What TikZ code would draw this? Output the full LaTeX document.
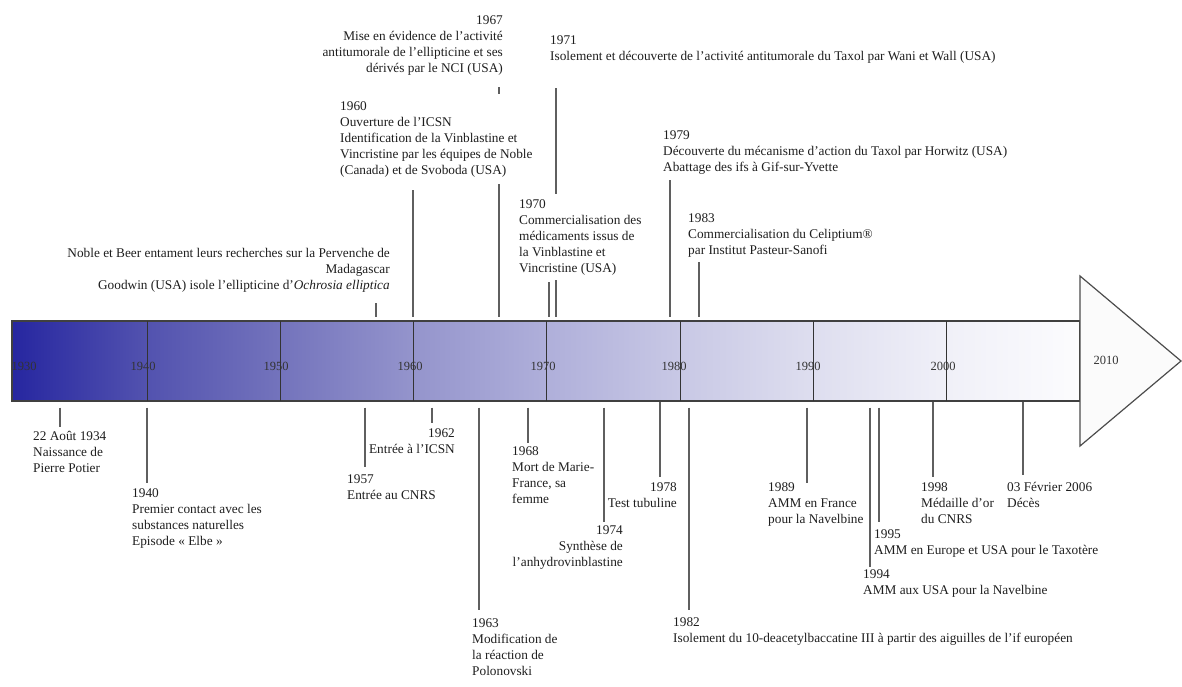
\documentclass[tikz,border=0pt]{standalone}
\usepackage{fontspec}
\setmainfont{Liberation Serif}
\definecolor{c0}{RGB}{38,38,160}
\definecolor{c1}{RGB}{82,82,175}
\definecolor{c2}{RGB}{115,115,188}
\definecolor{c3}{RGB}{148,148,204}
\definecolor{c4}{RGB}{175,175,218}
\definecolor{c5}{RGB}{200,200,229}
\definecolor{c6}{RGB}{222,222,239}
\definecolor{c7}{RGB}{240,240,248}
\definecolor{c8}{RGB}{252,252,254}
\definecolor{tickgray}{RGB}{95,95,95}
\definecolor{txt}{RGB}{30,30,30}
\pgfdeclarehorizontalshading{barshade}{100bp}{color(0bp)=(c0); color(25bp)=(c0); color(31.25bp)=(c1); color(37.5bp)=(c2); color(43.75bp)=(c3); color(50bp)=(c4); color(56.25bp)=(c5); color(62.5bp)=(c6); color(68.75bp)=(c7); color(75bp)=(c8); color(100bp)=(c8)}
\begin{document}
\begin{tikzpicture}[x=1pt,y=-1pt,
  lbl/.style={inner sep=0pt, font=\fontsize{13.3}{16}\selectfont, text=txt},
  lblL/.style={lbl, align=left, anchor=north west},
  lblR/.style={lbl, align=right, anchor=north east},
  cover/.style={fill=white, inner sep=#1, xshift=-#1, yshift=#1},
  yr/.style={inner sep=0pt, font=\fontsize{12.5}{12.5}\selectfont, text=black!80},
  tick/.style={draw=tickgray, line width=1.5pt},
  topgap/.style={shorten >=3pt},
  botgap/.style={shorten <=6pt},
  divider/.style={draw=black!80, line width=1pt}]
\useasboundingbox (0,0) rectangle (1182,686);

% timeline bar
\node[draw=black!75, line width=1.3pt, shading=barshade, minimum width=1068pt, minimum height=80pt, inner sep=0pt] (bar) at (546,361) {};
\foreach \x in {147.2,280.4,413.6,546.8,680,813.2,946.4}
  \draw[divider] (\x,321) -- (\x,401);
\draw[draw=black!70, fill=white!97!gray, line width=1.2pt, line join=miter] (1080,276) -- (1181,361) -- (1080,446) -- cycle;

% decade labels
\node[yr] (y30) at (24,366) {1930};
\node[yr] (y40) at (143,366) {1940};
\node[yr] (y50) at (276,366) {1950};
\node[yr] (y60) at (410,366) {1960};
\node[yr] (y70) at (543,366) {1970};
\node[yr] (y80) at (674,366) {1980};
\node[yr] (y90) at (808,366) {1990};
\node[yr] (y00) at (943,366) {2000};
\node[yr] (y10) at (1106,360) {2010};

% tick anchors (free ends)
\coordinate (a58) at (376,303);
\coordinate (a60) at (413,190);
\coordinate (a67) at (499,87);
\coordinate (a70) at (549,282);
\coordinate (a71) at (556,88);
\coordinate (a79) at (670,180);
\coordinate (a83) at (699,262);
\coordinate (b34) at (60,427);
\coordinate (b40) at (147,483);
\coordinate (b57) at (365,467);
\coordinate (b62) at (432,423);
\coordinate (b63) at (479,610);
\coordinate (b68) at (528,443);
\coordinate (b74) at (604,522);
\coordinate (b78) at (660,477);
\coordinate (b82) at (689,610);
\coordinate (b89) at (807,483);
\coordinate (b94) at (870,567);
\coordinate (b95) at (879,522);
\coordinate (b98) at (933,477);
\coordinate (b06) at (1023,475);

% ticks above
\foreach \c in {a58,a60,a67,a70,a71,a79,a83}
  \draw[tick,topgap] (\c) -- (\c |- bar.north);
% ticks below
\foreach \c in {b34,b40,b57,b62,b63,b68,b74,b82,b89,b94,b95}
  \draw[tick,botgap] (\c |- bar.south) -- (\c);
\foreach \c in {b78,b98,b06}
  \draw[tick] (\c |- bar.south) -- (\c);

% labels above
\node[lblR] (n67) at (503,15) {1967\\Mise en évidence de l'activité\\antitumorale de l'ellipticine et ses\\dérivés par le NCI (USA)};
\node[lblL] (n71) at (550,35) {1971\\Isolement et découverte de l'activité antitumorale du Taxol par Wani et Wall (USA)};
\node[lblL,cover=7pt] (n60) at (340,101) {1960\\Ouverture de l'ICSN\\Identification de la Vinblastine et\\Vincristine par les équipes de Noble\\(Canada) et de Svoboda (USA)};
\node[lblL] (n79) at (663,130) {1979\\Découverte du mécanisme d'action du Taxol par Horwitz (USA)\\Abattage des ifs à Gif-sur-Yvette};
\node[lblL,cover=5pt] (n70) at (519,199) {1970\\Commercialisation des\\médicaments issus de\\la Vinblastine et\\Vincristine (USA)};
\node[lblL] (n83) at (688,213) {1983\\Commercialisation du Celiptium®\\par Institut Pasteur-Sanofi};
\node[lblR] (n58) at (390,248) {Noble et Beer entament leurs recherches sur la Pervenche de\\Madagascar\\Goodwin (USA) isole l'ellipticine d'\textit{Ochrosia elliptica}};

% labels below
\node[lblL] (n34) at (33,431) {22 Août 1934\\Naissance de\\Pierre Potier};
\node[lblL] (n40) at (132,488) {1940\\Premier contact avec les\\substances naturelles\\Episode «~Elbe~»};
\node[lblR] (n62) at (455,428) {1962\\Entrée à l'ICSN};
\node[lblL] (n57) at (347,474) {1957\\Entrée au CNRS};
\node[lblL] (n63) at (472,618) {1963\\Modification de\\la réaction de\\Polonovski};
\node[lblL] (n68) at (512,446) {1968\\Mort de Marie-\\France, sa\\femme};
\node[lblR] (n74) at (623,525) {1974\\Synthèse de\\l'anhydrovinblastine};
\node[lblR] (n78) at (677,482) {1978\\Test tubuline};
\node[lblL] (n82) at (673,617) {1982\\Isolement du 10-deacetylbaccatine III à partir des aiguilles de l'if européen};
\node[lblL] (n89) at (768,482) {1989\\AMM en France\\pour la Navelbine};
\node[lblL] (n94) at (863,569) {1994\\AMM aux USA pour la Navelbine};
\node[lblL] (n95) at (874,529) {1995\\AMM en Europe et USA pour le Taxotère};
\node[lblL] (n98) at (921,482) {1998\\Médaille d'or\\du CNRS};
\node[lblL] (n06) at (1007,482) {03 Février 2006\\Décès};
\end{tikzpicture}
\end{document}
